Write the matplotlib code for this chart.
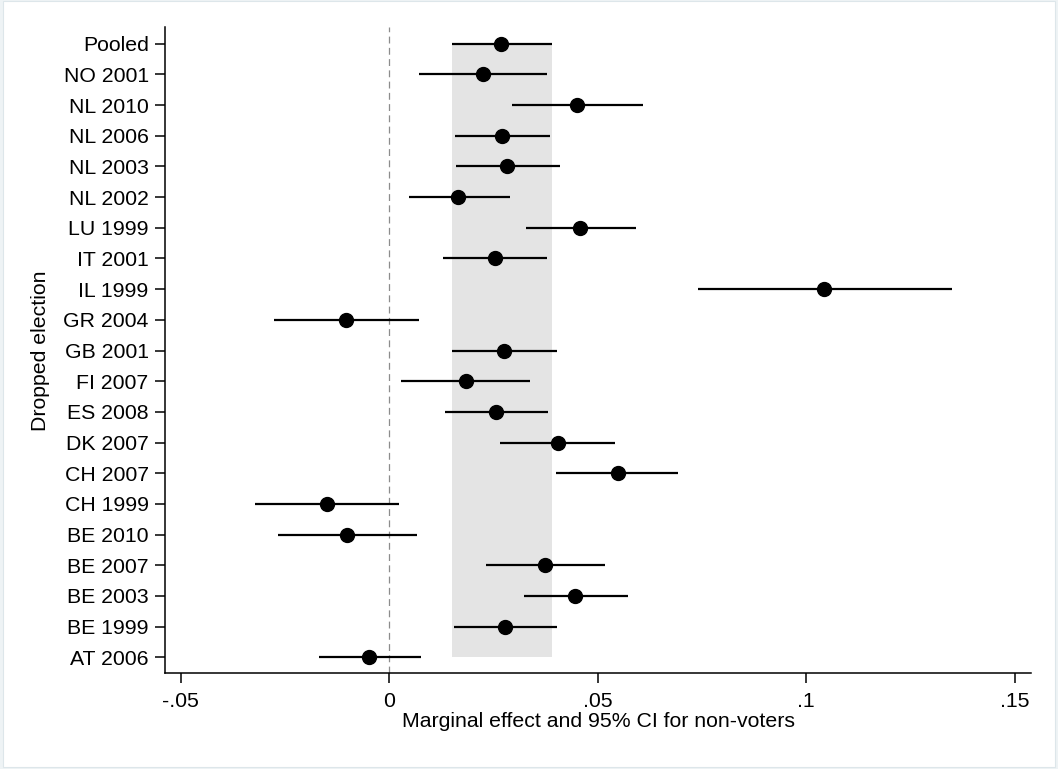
import matplotlib
matplotlib.use("Agg")
import matplotlib.pyplot as plt
from matplotlib.patches import Rectangle

plt.rcParams['font.family'] = ['Liberation Sans', 'DejaVu Sans']

# Dropped elections, bottom to top
labels = ["AT 2006", "BE 1999", "BE 2003", "BE 2007", "BE 2010", "CH 1999",
          "CH 2007", "DK 2007", "ES 2008", "FI 2007", "GB 2001", "GR 2004",
          "IL 1999", "IT 2001", "LU 1999", "NL 2002", "NL 2003", "NL 2006",
          "NL 2010", "NO 2001", "Pooled"]

# Marginal effect estimates
estimate = [-0.0047, 0.0279, 0.0447, 0.0373, -0.0100, -0.0148,
            0.0548, 0.0404, 0.0256, 0.0185, 0.0275, -0.0104,
            0.1043, 0.0253, 0.0459, 0.0166, 0.0284, 0.0272,
            0.0450, 0.0225, 0.0269]

# Lower and upper bounds of the 95% confidence interval
ci_low = [-0.0169, 0.0155, 0.0323, 0.0233, -0.0267, -0.0321,
          0.0401, 0.0267, 0.0135, 0.0029, 0.0151, -0.0276,
          0.0740, 0.0129, 0.0328, 0.0048, 0.0161, 0.0159,
          0.0296, 0.0071, 0.0150]
ci_high = [0.0077, 0.0402, 0.0573, 0.0519, 0.0068, 0.0024,
           0.0694, 0.0541, 0.0381, 0.0339, 0.0402, 0.0071,
           0.1351, 0.0378, 0.0593, 0.0289, 0.0411, 0.0387,
           0.0608, 0.0378, 0.0391]

x_ticks = [-0.05, 0, 0.05, 0.1, 0.15]
x_ticklabels = ["-.05", "0", ".05", ".1", ".15"]

fig = plt.figure(figsize=(10.58, 7.69), dpi=100, facecolor="#eef3f5")
# white graph region with a faint outline
fig.patches.append(Rectangle((2.5 / 1058, 2.5 / 769), 1052.5 / 1058, 765.5 / 769,
                             transform=fig.transFigure, facecolor="white",
                             edgecolor="#dde6ea", linewidth=0.8, zorder=-10))

ax = fig.add_axes([0.1560, 0.1245, 0.8185, 0.8400])
ax.set_facecolor("none")

n = len(labels)
ypos = list(range(n))
pooled = labels.index("Pooled")

# band for the pooled confidence interval
ax.fill_betweenx([0, n - 1], ci_low[pooled], ci_high[pooled],
                 color="#e4e4e4", linewidth=0, zorder=1)
ax.axvline(0, color="#8c8c8c", linewidth=0.9, dashes=(5.5, 3.5), zorder=2)

ax.hlines(ypos, ci_low, ci_high, color="black", linewidth=1.6, zorder=3)
ax.plot(estimate, ypos, "o", color="black", markersize=10, zorder=4)

ax.set_xlim(-0.05372, 0.15396)
ax.set_ylim(-0.52, n - 1 + 0.535)

ax.set_yticks(ypos)
ax.set_yticklabels(labels)
ax.set_xticks(x_ticks)
ax.set_xticklabels(x_ticklabels)

for side in ("top", "right"):
    ax.spines[side].set_visible(False)
for side in ("left", "bottom"):
    ax.spines[side].set_linewidth(1.1)

ax.tick_params(axis="both", length=7.3, width=1.1, labelsize=15.3, colors="black")
ax.tick_params(axis="y", pad=4.5)
ax.tick_params(axis="x", pad=6)

ax.set_xlabel("Marginal effect and 95% CI for non-voters", fontsize=15.3, labelpad=1)
ax.set_ylabel("Dropped election", fontsize=15.3)
ax.yaxis.set_label_coords(-0.133, 0.5)

fig.savefig("out.png", dpi=100, facecolor=fig.get_facecolor())
